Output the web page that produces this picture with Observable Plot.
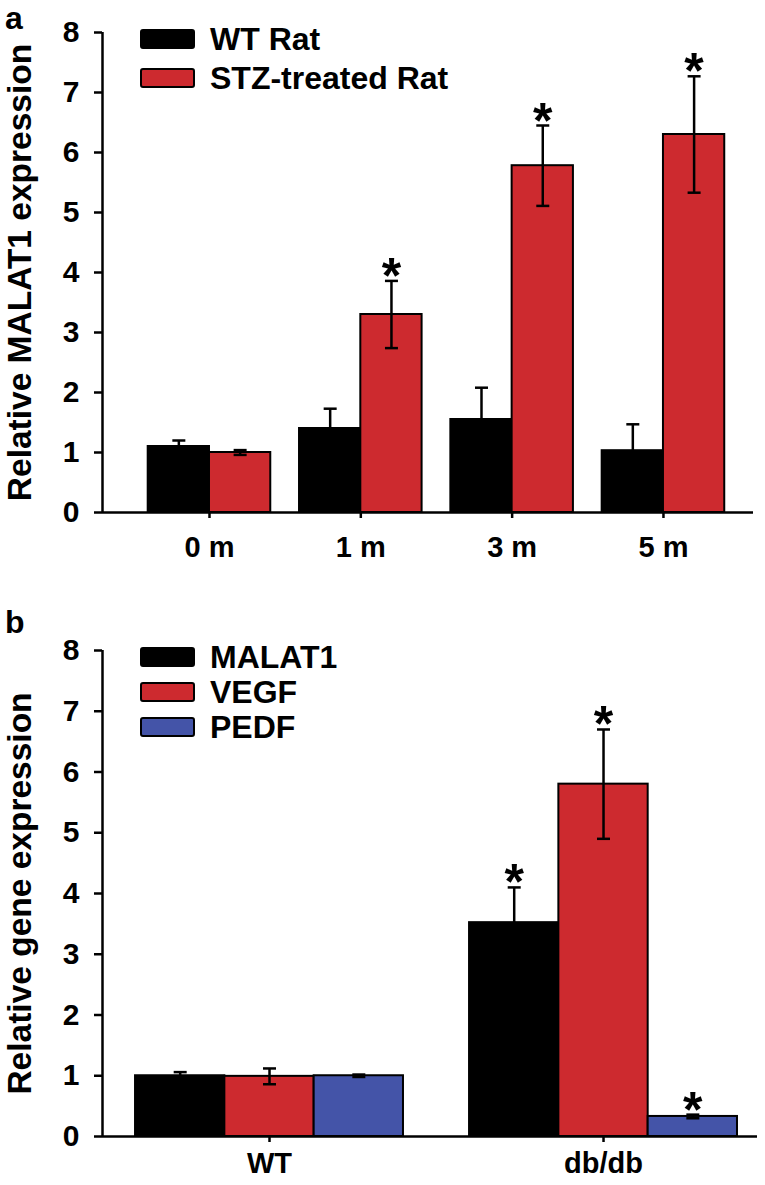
<!DOCTYPE html>
<html>
<head>
<meta charset="utf-8">
<script src="https://cdn.jsdelivr.net/npm/d3@7"></script>
<script src="https://cdn.jsdelivr.net/npm/@observablehq/plot@0.6"></script>
<style>
  html, body { margin: 0; padding: 0; background: #fff; }
  #wrap { position: relative; width: 765px; height: 1185px; font-family: "Liberation Sans", Arial, sans-serif; font-weight: bold; color: #000; }
  #wrap svg { display: block; }
  .panel-letter { position: absolute; left: 5px; font-size: 32px; line-height: 1.15; }
  .legend { position: absolute; left: 140px; }
  .legend .row { display: flex; align-items: center; font-size: 32px; line-height: 1; }
  .legend .sw { width: 51px; height: 16px; border: 2.5px solid #000; border-radius: 3px; margin-right: 15px; box-sizing: content-box; }
</style>
</head>
<body>
<div id="wrap"></div>
<script>
// ---------- Panel a data ----------
const timepoints = ["0 m", "1 m", "3 m", "5 m"];
const ratSeries = ["WT Rat", "STZ-treated Rat"];
const wtRatMean = [1.1, 1.4, 1.55, 1.03];
const wtRatErr = [0.1, 0.33, 0.53, 0.44];
const stzRatMean = [1.0, 3.3, 5.78, 6.3];
const stzRatErr = [0.04, 0.56, 0.67, 0.97];
const wtRatSig = [false, false, false, false];
const stzRatSig = [false, true, true, true];
const ratColors = ["#000000", "#cd2a2f"];

// ---------- Panel b data ----------
const mouseGroups = ["WT", "db/db"];
const genes = ["MALAT1", "VEGF", "PEDF"];
const malat1Mean = [1.0, 3.52];
const malat1Err = [0.06, 0.58];
const vegfMean = [0.99, 5.8];
const vegfErr = [0.13, 0.9];
const pedfMean = [1.0, 0.33];
const pedfErr = [0.02, 0.03];
const malat1Sig = [false, true];
const vegfSig = [false, true];
const pedfSig = [false, true];
const geneColors = ["#000000", "#cd2a2f", "#4454a8"];

const yTicks = [0, 1, 2, 3, 4, 5, 6, 7, 8];

// build grouped rows (dodge within each group along a linear x scale)
function buildRows(groups, series, means, errs, sigs, barWidth) {
  const rows = [];
  const n = series.length;
  groups.forEach((g, gi) => {
    series.forEach((s, si) => {
      const x1 = gi + (si - n / 2) * barWidth;
      const x2 = x1 + barWidth;
      rows.push({group: g, series: s, value: means[si][gi], err: errs[si][gi], sig: sigs[si][gi],
                 x1, x2, xc: (x1 + x2) / 2});
    });
  });
  return rows;
}

const rowsA = buildRows(timepoints, ratSeries, [wtRatMean, stzRatMean], [wtRatErr, stzRatErr], [wtRatSig, stzRatSig], 0.405);
const rowsB = buildRows(mouseGroups, genes, [malat1Mean, vegfMean, pedfMean], [malat1Err, vegfErr, pedfErr], [malat1Sig, vegfSig, pedfSig], 0.2674);

const capSymbol = {
  draw(context, size) {
    const r = Math.sqrt(size / Math.PI);
    context.moveTo(-r, 0);
    context.lineTo(r, 0);
  }
};

function barPanel({rows, groups, series, colors, xDomain, yLabel, height, marginTop, marginBottom, marginRight, xTickPadding, capR}) {
  return Plot.plot({
    width: 765,
    height,
    marginLeft: 102,
    marginRight,
    marginTop,
    marginBottom,
    style: {fontFamily: "Liberation Sans, Arial, sans-serif", background: "white", color: "black"},
    x: {type: "linear", domain: xDomain},
    y: {domain: [0, 8]},
    color: {domain: series, range: colors},
    marks: [
      Plot.rect(rows, {x1: "x1", x2: "x2", y1: 0, y2: "value", fill: "series", stroke: "black", strokeWidth: 2}),
      Plot.ruleX(rows, {x: "xc", y1: d => d.value - d.err, y2: d => d.value + d.err, stroke: "black", strokeWidth: 2.5}),
      Plot.dot(rows, {x: "xc", y: d => d.value + d.err, symbol: capSymbol, r: capR, fill: "none", stroke: "black", strokeWidth: 2.5}),
      Plot.dot(rows, {x: "xc", y: d => d.value - d.err, symbol: capSymbol, r: capR, fill: "none", stroke: "black", strokeWidth: 2.5}),
      Plot.text(rows.filter(d => d.sig), {x: "xc", y: d => d.value + d.err, text: () => "*", fontSize: 50, fontWeight: "bold", lineAnchor: "bottom", dy: 12, fill: "black"}),
      Plot.ruleX([xDomain[0]], {stroke: "black", strokeWidth: 2.5}),
      Plot.ruleY([0], {stroke: "black", strokeWidth: 2.5}),
      Plot.axisY({ticks: yTicks, tickSize: 8, tickPadding: 15, fontSize: 30, fontWeight: "bold", label: null, strokeWidth: 2.5}),
      Plot.axisY({ticks: [], tickSize: 0, label: yLabel, labelAnchor: "center", labelArrow: "none", labelOffset: 95, fontSize: 33.5, fontWeight: "bold"}),
      Plot.axisX({ticks: groups.map((_, i) => i), tickFormat: i => groups[i], tickSize: 6, tickPadding: xTickPadding, fontSize: 29, fontWeight: "bold", label: null, strokeWidth: 2.5})
    ]
  });
}

const wrap = document.getElementById("wrap");

const plotA = barPanel({
  rows: rowsA, groups: timepoints, series: ratSeries, colors: ratColors,
  xDomain: [-0.707, 3.595], yLabel: "Relative MALAT1 expression",
  height: 590, marginTop: 32, marginBottom: 78, marginRight: 12, xTickPadding: 18, capR: 6.5
});
const plotB = barPanel({
  rows: rowsB, groups: mouseGroups, series: genes, colors: geneColors,
  xDomain: [-0.5, 1.461], yLabel: "Relative gene expression",
  height: 595, marginTop: 60, marginBottom: 49, marginRight: 8, xTickPadding: 10, capR: 6.5
});
wrap.appendChild(plotA);
wrap.appendChild(plotB);

// panel letters
function addLetter(txt, top) {
  const d = document.createElement("div");
  d.className = "panel-letter";
  d.style.top = top + "px";
  d.textContent = txt;
  wrap.appendChild(d);
}
addLetter("a", 0);
addLetter("b", 604);

// legends
function addLegend(series, colors, top, rowHeight) {
  const lg = document.createElement("div");
  lg.className = "legend";
  lg.style.top = top + "px";
  series.forEach((s, i) => {
    const row = document.createElement("div");
    row.className = "row";
    row.style.height = rowHeight + "px";
    const sw = document.createElement("span");
    sw.className = "sw";
    sw.style.background = colors[i];
    const t = document.createElement("span");
    t.textContent = s;
    row.appendChild(sw);
    row.appendChild(t);
    lg.appendChild(row);
  });
  wrap.appendChild(lg);
}
addLegend(ratSeries, ratColors, 19, 39);
addLegend(genes, geneColors, 639, 35);
</script>
</body>
</html>
